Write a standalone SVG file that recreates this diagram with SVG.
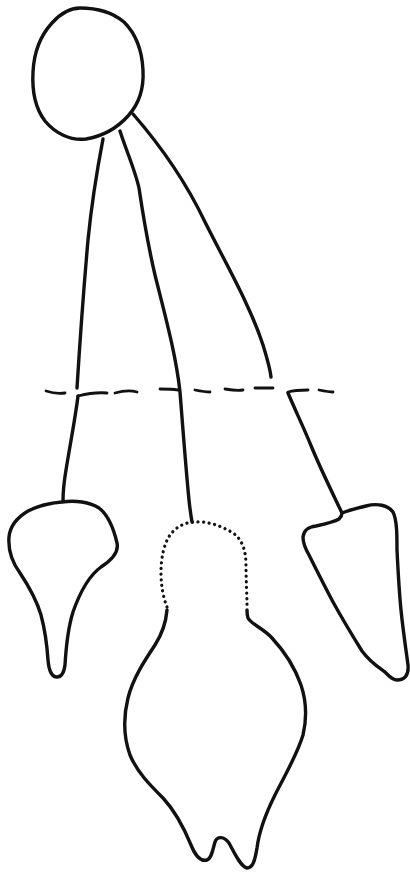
<svg xmlns="http://www.w3.org/2000/svg" width="410" height="876" viewBox="0 0 410 876">
  <style>
    .ink { fill: none; stroke: #111; stroke-width: 3.4; stroke-linecap: round; stroke-linejoin: round; }
    .dots { fill: none; stroke: #111; stroke-width: 3.2; stroke-linecap: round; stroke-dasharray: 0.1 5.5; }
    .dash { fill: none; stroke: #111; stroke-width: 2.8; stroke-linecap: round; }
  </style>
  <rect width="410" height="876" fill="#fff"/>

  <!-- top oval -->
  <g id="head">
    <path class="ink" d="M80,8 C95,8 112,12 124,22 C136,34 142,50 143,70 C144,88 139,104 128,116 C118,127 104,136 86,139 C70,141 55,133 45,121 C35,108 32,90 33,72 C34,52 40,36 52,23 C60,14 70,8 80,8 Z"/>
  </g>

  <!-- connectors and the dashed level line -->
  <g id="connectors">
    <!-- left strand -->
    <path class="ink" d="M103,139 C98,165 92,200 88,240 C84,285 80,340 77,388"/>
    <path class="ink" d="M78,396 C75,420 70,445 66,470 C64,482 63,492 63,501"/>
    <!-- middle strand -->
    <path class="ink" d="M120,131 C126,150 135,170 139,188 C143,215 148,245 155,275 C165,315 176,355 180,392 C183,430 186,470 189,500 C190,510 191,516 192,522"/>
    <!-- right strand -->
    <path class="ink" d="M133,114 C160,145 185,180 205,222 C225,262 250,305 263,345 C267,358 270,368 271,377"/>
    <path class="ink" d="M288,393 C296,412 304,428 312,448 C322,472 333,494 342,513"/>

    <!-- dashed level line -->
    <path class="dash" d="M46,391 C52,393 58,394 65,393"/>
    <path class="dash" d="M78,396 C86,394 96,392 107,393"/>
    <path class="dash" d="M115,393 C122,391 130,390 137,392"/>
    <path class="dash" d="M160,389 C166,389 172,389 178,390"/>
    <path class="dash" d="M195,390 C200,391 205,392 210,392"/>
    <path class="dash" d="M225,389 C231,390 237,391 243,390"/>
    <path class="dash" d="M255,388 C261,388 267,388 273,388"/>
    <path class="dash" d="M288,392 C295,390 301,390 308,390"/>
    <path class="dash" d="M319,390 C324,391 329,392 333,392"/>
  </g>

  <!-- left figure -->
  <g id="left-shape">
    <path class="ink" d="M62,502 C75,500 90,502 99,508 C108,515 114,530 117,543 C119,552 112,560 101,567 C90,575 80,592 73,612 C68,628 66,648 65,665 C64,673 62,677 57,677 C52,677 49,672 48,660 C47,645 45,630 41,615 C36,598 28,585 20,573 C12,562 8,550 9,537 C10,526 18,517 28,511 C38,506 50,503 62,502 Z"/>
  </g>

  <!-- middle figure: dotted upper outline, solid lower body -->
  <g id="middle-shape">
    <path class="dots" d="M167,607 C163,597 161,585 161,572 C161,558 164,544 170,535 C176,527 185,522 195,522 C206,521 220,525 233,533 C243,540 246,552 246,566 C246,580 247,594 247,606"/>
    <path class="ink" d="M167,610 C166,622 162,634 155,645 C145,660 133,678 128,698 C123,718 124,738 130,755 C137,772 150,785 163,798 C176,812 184,828 191,845 C195,855 200,862 207,860 C212,858 213,848 215,842 C217,836 224,836 229,843 C234,852 240,866 247,868 C253,868 255,860 257,848 C259,832 265,815 275,795 C285,775 297,755 303,735 C307,718 306,700 301,685 C295,668 285,652 272,638 C263,628 252,625 248,618 C247,615 247,612 247,610"/>
  </g>

  <!-- right figure -->
  <g id="right-shape">
    <path class="ink" d="M342,513 C350,510 358,508 366,506 C377,503 388,505 393,512 C397,520 397,535 397,550 C398,570 399,590 401,610 C403,630 406,650 408,665 C409,676 404,680 397,680 C392,680 389,676 385,672 C378,667 370,662 362,651 C352,635 343,620 333,602 C324,585 316,569 309,555 C305,548 303,542 303,537 C304,530 308,527 316,526 C325,524 334,522 339,519 C341,517 342,515 342,513 Z"/>
  </g>
</svg>
